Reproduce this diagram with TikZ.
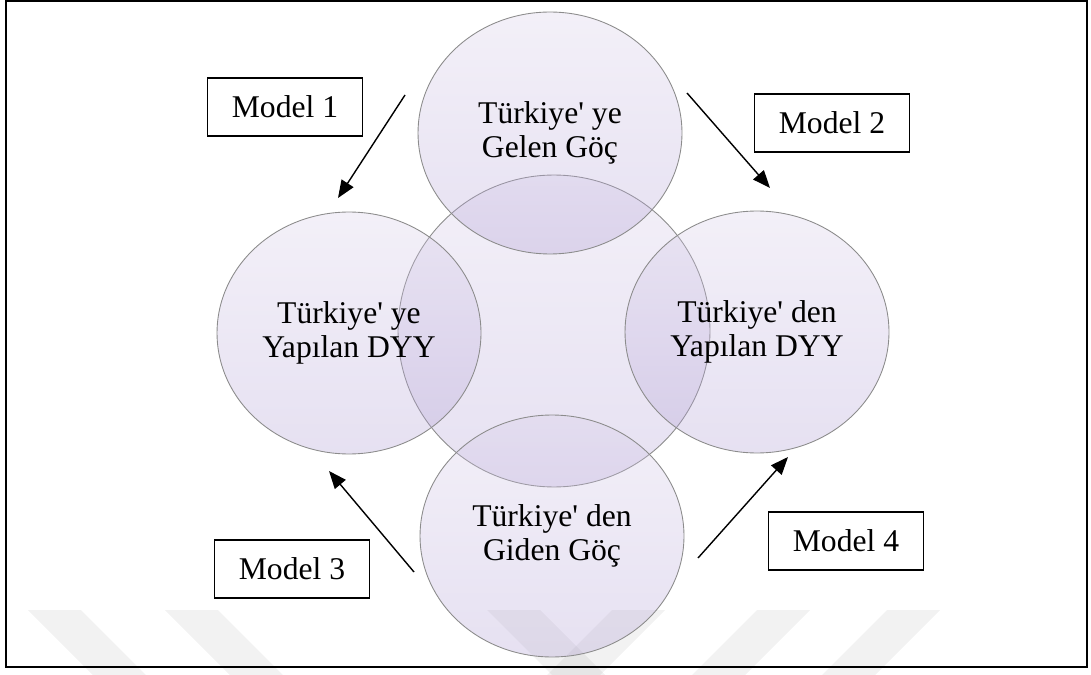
\documentclass[tikz,border=0pt]{standalone}
\usepackage{fontspec}
\setmainfont{Liberation Serif}[Ligatures=TeXOff]
\usetikzlibrary{arrows.meta,shapes.geometric,positioning}

\definecolor{lilactop}{RGB}{215,205,232}
\definecolor{lilacbot}{RGB}{172,154,210}

\begin{document}
\begin{tikzpicture}[x=0.02cm, y=-0.02cm, >={Triangle[length=10pt,width=8pt]}, font=\fontsize{18}{19}\selectfont]
	\tikzstyle{circ}=[ellipse, draw=gray!90, line width=0.5pt, top color=lilactop, bottom color=lilacbot, fill opacity=0.3, draw opacity=1, text opacity=1, align=center, inner sep=0pt, minimum width=5.28cm, minimum height=4.84cm]
	\tikzstyle{model}=[draw=black, line width=0.7pt, fill=white, minimum width=3.1cm, minimum height=1.16cm]
	\tikzstyle{wstripe}=[fill=black, fill opacity=0.05]
	\useasboundingbox (0,0) rectangle (1091,675);
	% watermark
	\foreach \a in {28,165,487}
		\fill[wstripe] (\a,610) -- ++(53,0) -- ++(65,65) -- ++(-53,0) -- cycle;
	\foreach \b in {612,757,887}
		\fill[wstripe] (\b,610) -- ++(53,0) -- ++(-65,65) -- ++(-53,0) -- cycle;
	% frame
	\draw[line width=1.3pt] (6,1) rectangle (1087,667);
	% circles
	\node[circ, minimum size=6.24cm] (O) at (554,331) {};
	\node[circ] (A) at (550,133) {Türkiye' ye\\Gelen Göç};
	\node[circ] (D) at (349,333) {Türkiye' ye\\Yapılan DYY};
	\node[circ] (B) at (757,332) {Türkiye' den\\Yapılan DYY};
	\node[circ] (C) at (552,536) {Türkiye' den\\Giden Göç};
	% models
	\node[model] (M1) at (285,107) {Model 1};
	\node[model] (M2) at (832,123) {Model 2};
	\node[model] (M3) at (292,569) {Model 3};
	\node[model] (M4) at (846,541) {Model 4};
	% arrows
	\coordinate (a1) at (405,95);  \coordinate (a2) at (338,198);
	\coordinate (b1) at (687,93);  \coordinate (b2) at (770,188);
	\coordinate (c1) at (414,572); \coordinate (c2) at (329,471);
	\coordinate (d1) at (698,558); \coordinate (d2) at (788,457);
	\draw[->, line width=0.8pt] (a1) -- (a2);
	\draw[->, line width=0.8pt] (b1) -- (b2);
	\draw[->, line width=0.8pt] (c1) -- (c2);
	\draw[->, line width=0.8pt] (d1) -- (d2);
\end{tikzpicture}
\end{document}
